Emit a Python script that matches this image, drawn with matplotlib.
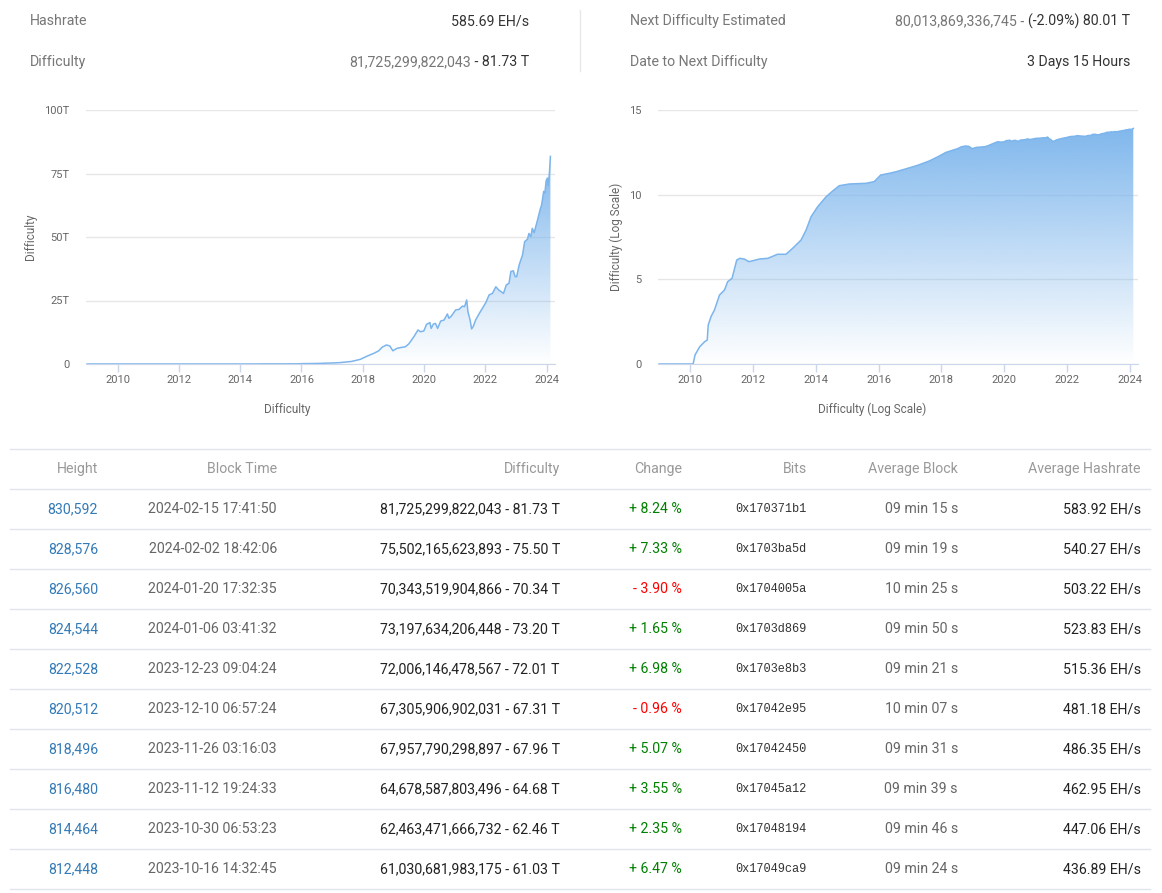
import numpy as np
import matplotlib
matplotlib.use('Agg')
import matplotlib.pyplot as plt
from matplotlib.colors import to_rgb

plt.rcParams['font.family'] = ['Roboto', 'DejaVu Sans']

# difficulty history (decimal year, difficulty in T)
years = [2009.01, 2009.5, 2010.09, 2010.15, 2010.3, 2010.46, 2010.54, 2010.57, 2010.66,
         2010.77, 2010.93, 2011.09, 2011.19, 2011.33, 2011.48, 2011.58, 2011.72, 2011.87,
         2012.2, 2012.47, 2012.78, 2013.05, 2013.26, 2013.53, 2013.69, 2013.85, 2014.06,
         2014.33, 2014.54, 2014.75, 2015.07, 2015.6, 2015.86, 2016.07, 2016.34, 2016.57,
         2017.1, 2017.27, 2017.63, 2017.92, 2018.14, 2018.36, 2018.52, 2018.63, 2018.77,
         2018.88, 2018.98, 2019.12, 2019.39, 2019.5, 2019.67, 2019.8, 2019.88, 2019.99,
         2020.08, 2020.19, 2020.23, 2020.3, 2020.37, 2020.44, 2020.54, 2020.65, 2020.76,
         2020.81, 2020.89, 2021.03, 2021.14, 2021.25, 2021.32, 2021.39, 2021.43, 2021.5,
         2021.55, 2021.6, 2021.68, 2021.79, 2021.9, 2022.01, 2022.12, 2022.23, 2022.34,
         2022.44, 2022.59, 2022.68, 2022.77, 2022.83, 2022.91, 2022.97, 2023.02, 2023.1,
         2023.21, 2023.28, 2023.37, 2023.42, 2023.48, 2023.53, 2023.59, 2023.7, 2023.79,
         2023.83, 2023.86, 2023.9, 2023.94, 2023.98, 2024.02, 2024.05, 2024.09, 2024.12]
diff_t = [1e-12, 1e-12, 1e-12, 3.4e-12, 1.05e-11, 2.1e-11, 2.6e-11, 2.0e-10, 6.3e-10,
          1.55e-9, 1.18e-8, 2.34e-8, 7.24e-8, 1.15e-7, 1.38e-6, 1.74e-6, 1.58e-6, 1.10e-6,
          1.58e-6, 1.74e-6, 3.02e-6, 3.02e-6, 6.76e-6, 2.09e-5, 8.13e-5, 5.01e-4, 1.95e-3,
          7.59e-3, 1.66e-2, 3.39e-2, 4.27e-2, 4.68e-2, 5.89e-2, 0.145, 0.182, 0.229,
          0.447, 0.56, 1.0, 1.84, 3.1, 4.2, 5.2, 6.6, 7.5,
          7.1, 5.2, 6.2, 6.8, 7.9, 10.8, 13.4, 12.7, 13.0,
          15.6, 16.3, 14.0, 15.7, 16.0, 14.0, 16.9, 17.3, 19.7,
          18.0, 18.9, 21.3, 21.5, 22.8, 22.6, 25.2, 20.6, 17.3,
          13.8, 14.7, 17.3, 19.7, 21.9, 24.1, 27.2, 27.8, 30.4,
          29.1, 27.8, 31.1, 31.8, 36.4, 36.7, 34.4, 34.4, 39.0,
          42.9, 48.2, 49.1, 51.4, 50.1, 53.4, 51.7, 56.7, 61.03,
          62.46, 64.68, 67.96, 67.31, 72.01, 73.20, 70.34, 75.50, 81.73]

# summary
hashrate = '585.69 EH/s'
cur_diff = 81725299822043
next_diff = 80013869336745
next_change = -2.09
time_to_next = '3 Days 15 Hours'

# table
heights = [830592, 828576, 826560, 824544, 822528, 820512, 818496, 816480, 814464, 812448]
block_times = ['2024-02-15 17:41:50', '2024-02-02 18:42:06', '2024-01-20 17:32:35',
               '2024-01-06 03:41:32', '2023-12-23 09:04:24', '2023-12-10 06:57:24',
               '2023-11-26 03:16:03', '2023-11-12 19:24:33', '2023-10-30 06:53:23',
               '2023-10-16 14:32:45']
difficulties = [81725299822043, 75502165623893, 70343519904866, 73197634206448,
                72006146478567, 67305906902031, 67957790298897, 64678587803496,
                62463471666732, 61030681983175]
changes = [8.24, 7.33, -3.90, 1.65, 6.98, -0.96, 5.07, 3.55, 2.35, 6.47]
bits = ['0x170371b1', '0x1703ba5d', '0x1704005a', '0x1703d869', '0x1703e8b3',
        '0x17042e95', '0x17042450', '0x17045a12', '0x17048194', '0x17049ca9']
avg_block = ['09 min 15 s', '09 min 19 s', '10 min 25 s', '09 min 50 s', '09 min 21 s',
             '10 min 07 s', '09 min 31 s', '09 min 39 s', '09 min 46 s', '09 min 24 s']
avg_hashrate = [583.92, 540.27, 503.22, 523.83, 515.36, 481.18, 486.35, 462.95, 447.06, 436.89]

W, H = 1162, 893
BLUE = '#7cb5ec'
GRID = '#e6e6e6'
AXIS = '#ccd6eb'
LABEL = '#666666'
DY = 1.2  # small downward nudge so text centres sit like the reference

fig = plt.figure(figsize=(W / 100, H / 100), dpi=100)
bg = fig.add_axes([0, 0, 1, 1])
bg.set_xlim(0, W)
bg.set_ylim(H, 0)
bg.axis('off')


def px_axes(l, t, r, b):
    return fig.add_axes([l / W, (H - b) / H, (r - l) / W, (b - t) / H])


def gradient_area(ax, x, y):
    x = np.asarray(x)
    y = np.asarray(y)
    poly = ax.fill_between(x, y, 0, facecolor='none', edgecolor='none')
    r, g, b = to_rgb(BLUE)
    n = 256
    grad = np.zeros((n, 1, 4))
    grad[:, 0, 0], grad[:, 0, 1], grad[:, 0, 2] = r, g, b
    grad[:, 0, 3] = np.linspace(0.97, 0.0, n)
    img = ax.imshow(grad, extent=[x[0], x[-1], 0, y.max()], aspect='auto',
                    origin='upper', zorder=2, interpolation='bilinear')
    img.set_clip_path(poly.get_paths()[0], transform=ax.transData)
    ax.plot(x, y, color=BLUE, lw=1.1, zorder=3)


def style_axes(ax, yticks, ylabels):
    ax.set_xlim(2008.97, 2024.27)
    ax.set_xticks(range(2010, 2025, 2))
    ax.set_yticks(yticks)
    ax.set_yticklabels(ylabels)
    ax.set_ylim(yticks[0], yticks[-1])
    ax.grid(axis='y', color=GRID, lw=1, zorder=1)
    ax.set_axisbelow(True)
    for s in ['top', 'right', 'left']:
        ax.spines[s].set_visible(False)
    ax.spines['bottom'].set_color(AXIS)
    ax.spines['bottom'].set_zorder(4)
    ax.tick_params(axis='x', colors=AXIS, length=6, width=1, pad=2, labelcolor=LABEL,
                   labelsize=8)
    ax.tick_params(axis='y', length=0, pad=12, labelcolor=LABEL, labelsize=8)


# left chart: linear
ax1 = px_axes(86, 110, 555, 364)
gradient_area(ax1, years, diff_t)
style_axes(ax1, [0, 25, 50, 75, 100], ['0', '25T', '50T', '75T', '100T'])

# right chart: log10 of difficulty
ax2 = px_axes(658, 110, 1138, 364)
gradient_area(ax2, years, np.log10(np.array(diff_t) * 1e12))
style_axes(ax2, [0, 5, 10, 15], ['0', '5', '10', '15'])

bg.text(31, 237, 'Difficulty', rotation=90, ha='center', va='center', color=LABEL, fontsize=8.5)
bg.text(287, 408 + DY, 'Difficulty', ha='center', va='center', color=LABEL, fontsize=8.5)
bg.text(616, 237, 'Difficulty (Log Scale)', rotation=90, ha='center', va='center',
        color=LABEL, fontsize=8.5)
bg.text(872, 408 + DY, 'Difficulty (Log Scale)', ha='center', va='center', color=LABEL,
        fontsize=8.5)

# summary block
renderer = fig.canvas.get_renderer()
GRAY = '#777777'
DARK = '#333333'
FS = 10.2


def two_part(x_right, y, gray_part, dark_part):
    t = bg.text(x_right, y, dark_part, ha='right', va='center', color=DARK, fontsize=FS)
    bb = t.get_window_extent(renderer=renderer)
    x_left = bg.transData.inverted().transform((bb.x0, bb.y0))[0]
    bg.text(x_left, y, gray_part, ha='right', va='center', color=GRAY, fontsize=FS)


bg.text(30, 20 + DY, 'Hashrate', ha='left', va='center', color=GRAY, fontsize=FS)
bg.text(529, 20 + DY, hashrate, ha='right', va='center', color=DARK, fontsize=FS)
bg.text(30, 61 + DY, 'Difficulty', ha='left', va='center', color=GRAY, fontsize=FS)
two_part(529, 61 + DY, f'{cur_diff:,}', f' - {cur_diff / 1e12:.2f} T')
bg.text(630, 20 + DY, 'Next Difficulty Estimated', ha='left', va='center', color=GRAY,
        fontsize=FS)
two_part(1130, 20 + DY, f'{next_diff:,} - ', f'({next_change:.2f}%) {next_diff / 1e12:.2f} T')
bg.text(630, 61 + DY, 'Date to Next Difficulty', ha='left', va='center', color=GRAY,
        fontsize=FS)
bg.text(1130, 61 + DY, time_to_next, ha='right', va='center', color=DARK, fontsize=FS)
bg.plot([580, 580], [10, 71], color='#e8e8e8', lw=1)

# table
LINE = '#e3e5ec'
col_right = [98, 277, 560, 682, 807, 958, 1141]
headers = ['Height', 'Block Time', 'Difficulty', 'Change', 'Bits', 'Average Block',
           'Average Hashrate']
bg.plot([10, 1150], [448.5, 448.5], color=LINE, lw=1)
for xr, h in zip(col_right, headers):
    bg.text(xr, 468 + DY, h, ha='right', va='center', color='#999999', fontsize=FS)

for i in range(len(heights)):
    y = 508 + 40 * i + DY
    bg.plot([10, 1150], [508 + 40 * i - 19.5] * 2, color=LINE, lw=1)
    bg.text(col_right[0], y, f'{heights[i]:,}', ha='right', va='center', color='#337ab7',
            fontsize=FS)
    bg.text(col_right[1], y, block_times[i], ha='right', va='center', color=LABEL, fontsize=FS)
    d = difficulties[i]
    bg.text(col_right[2], y, f'{d:,} - {d / 1e12:.2f} T', ha='right', va='center',
            color='#222222', fontsize=FS)
    c = changes[i]
    sign = '+' if c >= 0 else '-'
    bg.text(col_right[3], y, f'{sign} {abs(c):.2f} %', ha='right', va='center',
            color='#008000' if c >= 0 else '#ff0000', fontsize=FS)
    bg.text(col_right[4], y, bits[i], ha='right', va='center', color=DARK,
            fontsize=8.6, family=['Liberation Mono', 'DejaVu Sans Mono'])
    bg.text(col_right[5], y, avg_block[i], ha='right', va='center', color=LABEL, fontsize=FS)
    bg.text(col_right[6], y, f'{avg_hashrate[i]:.2f} EH/s', ha='right', va='center',
            color='#222222', fontsize=FS)
bg.plot([10, 1150], [888.5, 888.5], color=LINE, lw=1)

fig.savefig('out.png', dpi=100)
